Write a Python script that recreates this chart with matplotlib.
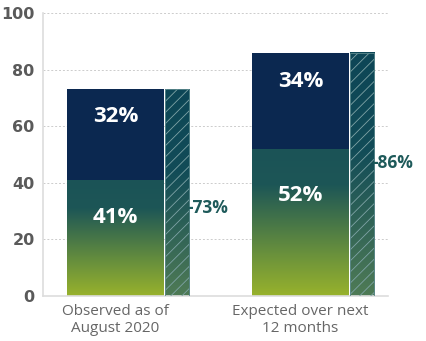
import numpy as np
import matplotlib.pyplot as plt
from matplotlib.colors import LinearSegmentedColormap

# data
categories = ["Observed as of\nAugust 2020", "Expected over next\n12 months"]
lower_vals = [41, 52]
upper_vals = [32, 34]
totals = [73, 86]
lower_labels = ["41%", "52%"]
upper_labels = ["32%", "34%"]
total_labels = ["-73%", "-86%"]

# layout
total_label_y = [31, 47]
x = np.arange(len(categories))
main_w = 0.524
hatch_off = 0.334
hatch_w = 0.13

navy = "#0b2850"
teal_txt = "#1e5a5a"
grad = LinearSegmentedColormap.from_list("g", [(0, "#98b22c"), (0.25, "#6f953a"), (0.75, "#1d5656"), (1, "#1b5357")])
grad_h = LinearSegmentedColormap.from_list("h", [(0, "#4f7b55"), (0.6, "#124c58"), (1, "#0d4656")])

plt.rcParams['font.family'] = ['Open Sans', 'DejaVu Sans']
plt.rcParams['hatch.linewidth'] = 0.6
fig = plt.figure(figsize=(4.26, 3.41), dpi=100)
ax = fig.add_axes([0.101, 0.132, 0.81, 0.83])
ax.set_xlim(-0.392, 1.473)
ax.set_ylim(0, 100)

grad_img = np.linspace(0, 1, 256).reshape(-1, 1)

for i in range(len(categories)):
    xl = x[i] - main_w / 2
    # lower gradient segment
    ax.imshow(grad_img, cmap=grad, origin='lower', aspect='auto',
              extent=(xl, xl + main_w, 0, lower_vals[i]), zorder=2)
    # upper navy segment
    ax.bar(x[i], upper_vals[i], main_w, bottom=lower_vals[i], color=navy,
           linewidth=0, zorder=2)
    # hatched total bar
    hx = x[i] + hatch_off - hatch_w / 2
    ax.imshow(grad_img, cmap=grad_h, origin='lower', aspect='auto',
              extent=(hx, hx + hatch_w, 0, totals[i]), zorder=2)
    ax.bar(x[i] + hatch_off, totals[i], hatch_w, color='none', edgecolor='#7fa3a6',
           hatch='///', linewidth=0, zorder=3)
    ax.bar(x[i] + hatch_off, totals[i], hatch_w, color='none', edgecolor='#5d8a8e',
           linewidth=0.6, zorder=3)
    # labels
    ax.text(x[i], lower_vals[i] * 0.68, lower_labels[i], color='white', fontsize=16,
            fontweight='bold', ha='center', va='center', zorder=4)
    ax.text(x[i], lower_vals[i] + upper_vals[i] * 0.7, upper_labels[i], color='white',
            fontsize=16, fontweight='bold', ha='center', va='center', zorder=4)
    ax.text(hx + hatch_w - 0.012, total_label_y[i], total_labels[i], color=teal_txt,
            fontsize=12.5, fontweight='bold', ha='left', va='center', zorder=4)

ax.set_xticks(x)
ax.set_xticklabels(categories, fontsize=11, color='#666666', linespacing=1.15)
ax.set_yticks([0, 20, 40, 60, 80, 100])
ax.tick_params(axis='y', labelsize=11.5, labelcolor='#5a5a5a', length=0, pad=6)
ax.tick_params(axis='x', length=0, pad=6)
for lab in ax.get_yticklabels():
    lab.set_fontweight('bold')
    lab.set_family('DejaVu Sans')
ax.grid(axis='y', linestyle=(0, (2, 2)), color='#cccccc', linewidth=0.7, zorder=0)
ax.set_axisbelow(True)
for s in ['top', 'right']:
    ax.spines[s].set_visible(False)
ax.spines['left'].set_color('#dddddd')
ax.spines['bottom'].set_color('#dddddd')
ax.spines['left'].set_linewidth(1.2)
ax.spines['bottom'].set_linewidth(1.2)

fig.savefig("out.png", dpi=100)
